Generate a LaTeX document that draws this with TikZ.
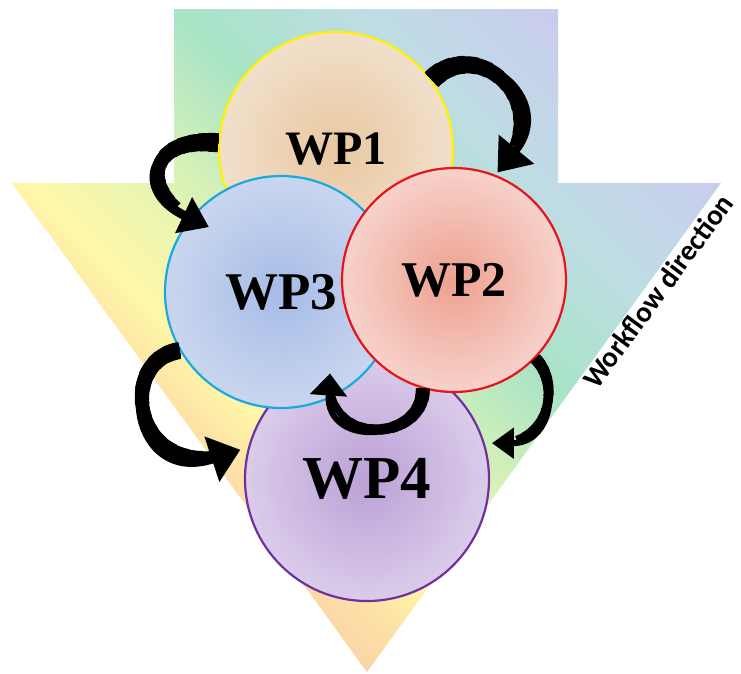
\documentclass[tikz,border=0pt]{standalone}
\usepackage{fontspec}
\setmainfont{Liberation Serif}
\newfontfamily\wpsans{Carlito}
\usetikzlibrary{arrows.meta,calc}

\definecolor{bgO}{HTML}{FBD4A6}
\definecolor{bgYO}{HTML}{FDE3A6}
\definecolor{bgY}{HTML}{FFF7A8}
\definecolor{bgYG}{HTML}{EDF6B0}
\definecolor{bgLG}{HTML}{C8EDBC}
\definecolor{bgG}{HTML}{A8E3C6}
\definecolor{bgB}{HTML}{BEDDE4}
\definecolor{bgL}{HTML}{C9CDED}

\definecolor{wpOneIn}{HTML}{E9C8A0}
\definecolor{wpOneOut}{HTML}{F1DFCB}
\definecolor{wpOneLine}{HTML}{FFF200}
\definecolor{wpTwoIn}{HTML}{EEA090}
\definecolor{wpTwoOut}{HTML}{F6D2CA}
\definecolor{wpTwoLine}{HTML}{E8141B}
\definecolor{wpThrIn}{HTML}{A6BCE6}
\definecolor{wpThrOut}{HTML}{CAD6EF}
\definecolor{wpThrLine}{HTML}{18A9E1}
\definecolor{wpFouIn}{HTML}{BBA0D6}
\definecolor{wpFouOut}{HTML}{DACCEA}
\definecolor{wpFouLine}{HTML}{7030A0}

\pgfdeclarehorizontalshading{wpbg}{100bp}{color(0bp)=(bgO); color(33.6bp)=(bgO); color(37.4bp)=(bgYO); color(40.7bp)=(bgY); color(45.5bp)=(bgYG); color(51.2bp)=(bgLG); color(56.5bp)=(bgG); color(65.1bp)=(bgB); color(73.7bp)=(bgL); color(100bp)=(bgL)}

% #1 start, #2 control1, #3 control2, #4 end, #5 taper length, #6 start width, #7 end width, #8 head length, #9 head width
\newcommand\wparrow[9]{%
  \draw[black,line width=#7pt,-{Triangle[length=#8pt,width=#9pt]}] #1 .. controls #2 and #3 .. #4;
  \foreach \wpk in {1,...,12}{%
    \pgfmathsetmacro\wpW{#6-(#6-#7)*(\wpk-1)/12}%
    \pgfmathsetmacro\wpL{#5*\wpk/12}%
    \draw[black,line width=\wpW pt,dash pattern=on \wpL pt off 3000pt] #1 .. controls #2 and #3 .. #4;
  }%
}

\tikzset{
  wpcircle/.style={circle, inner sep=0pt, line width=2.2pt, text=black},
}

\begin{document}
\begin{tikzpicture}[x=1pt,y=1pt]
\useasboundingbox (0,0) rectangle (741,-673);

% background workflow arrow
\begin{scope}
  \clip (174,-9) -- (558,-9) -- (558,-183) -- (721,-183) -- (367,-672) -- (12,-183) -- (174,-183) -- cycle;
  \shade[shading=wpbg, shading angle=45] (0,34) rectangle (741,-707);
\end{scope}

% work packages
\node[wpcircle, minimum size=234pt, draw=wpOneLine, inner color=wpOneIn, outer color=wpOneOut,
      font=\bfseries\fontsize{48}{50}\selectfont] (wp1) at (336,-149) {WP1};
\node[wpcircle, minimum size=244pt, draw=wpFouLine, inner color=wpFouIn, outer color=wpFouOut,
      font=\bfseries\fontsize{61}{63}\selectfont] (wp4) at (367,-479) {WP4};
\node[wpcircle, minimum size=232pt, draw=wpThrLine, inner color=wpThrIn, outer color=wpThrOut,
      font=\bfseries\fontsize{53}{55}\selectfont] (wp3) at (281,-292) {WP3};
\node[wpcircle, minimum size=224pt, draw=wpTwoLine, inner color=wpTwoIn, outer color=wpTwoOut,
      font=\bfseries\fontsize{50}{52}\selectfont] (wp2) at (454,-280) {WP2};

% curved connectors
\wparrow{(wp1.36)}{+(45,45)}{+(60,73)}{($(wp2.center)+(68:116)$)}{150}{20}{8}{30}{44}
\wparrow{(wp1.177)}{+(-70,7)}{+(-76,36)}{($(wp3.center)+(138:97)$)}{115}{19}{9}{28}{38}
\wparrow{(wp3.210)}{+(-64,-9)}{+(-109,-36)}{($(wp4.center)+(167:130)$)}{175}{17}{9}{30}{46}
\wparrow{(wp2.254)}{+(1,-53)}{+(-5,-76)}{($(wp3.center)+(301:95)$)}{130}{14}{6}{22}{36}
\wparrow{(wp2.316)}{+(25,-25)}{+(60,0)}{($(wp4.center)+(16:130)$)}{98}{12}{6}{22}{30}

% label
\node[font=\wpsans\bfseries\fontsize{29}{31}\selectfont, rotate=53.5, text=black, inner sep=0pt] (wfd) at (658,-291) {Workflow direction};
\end{tikzpicture}
\end{document}
